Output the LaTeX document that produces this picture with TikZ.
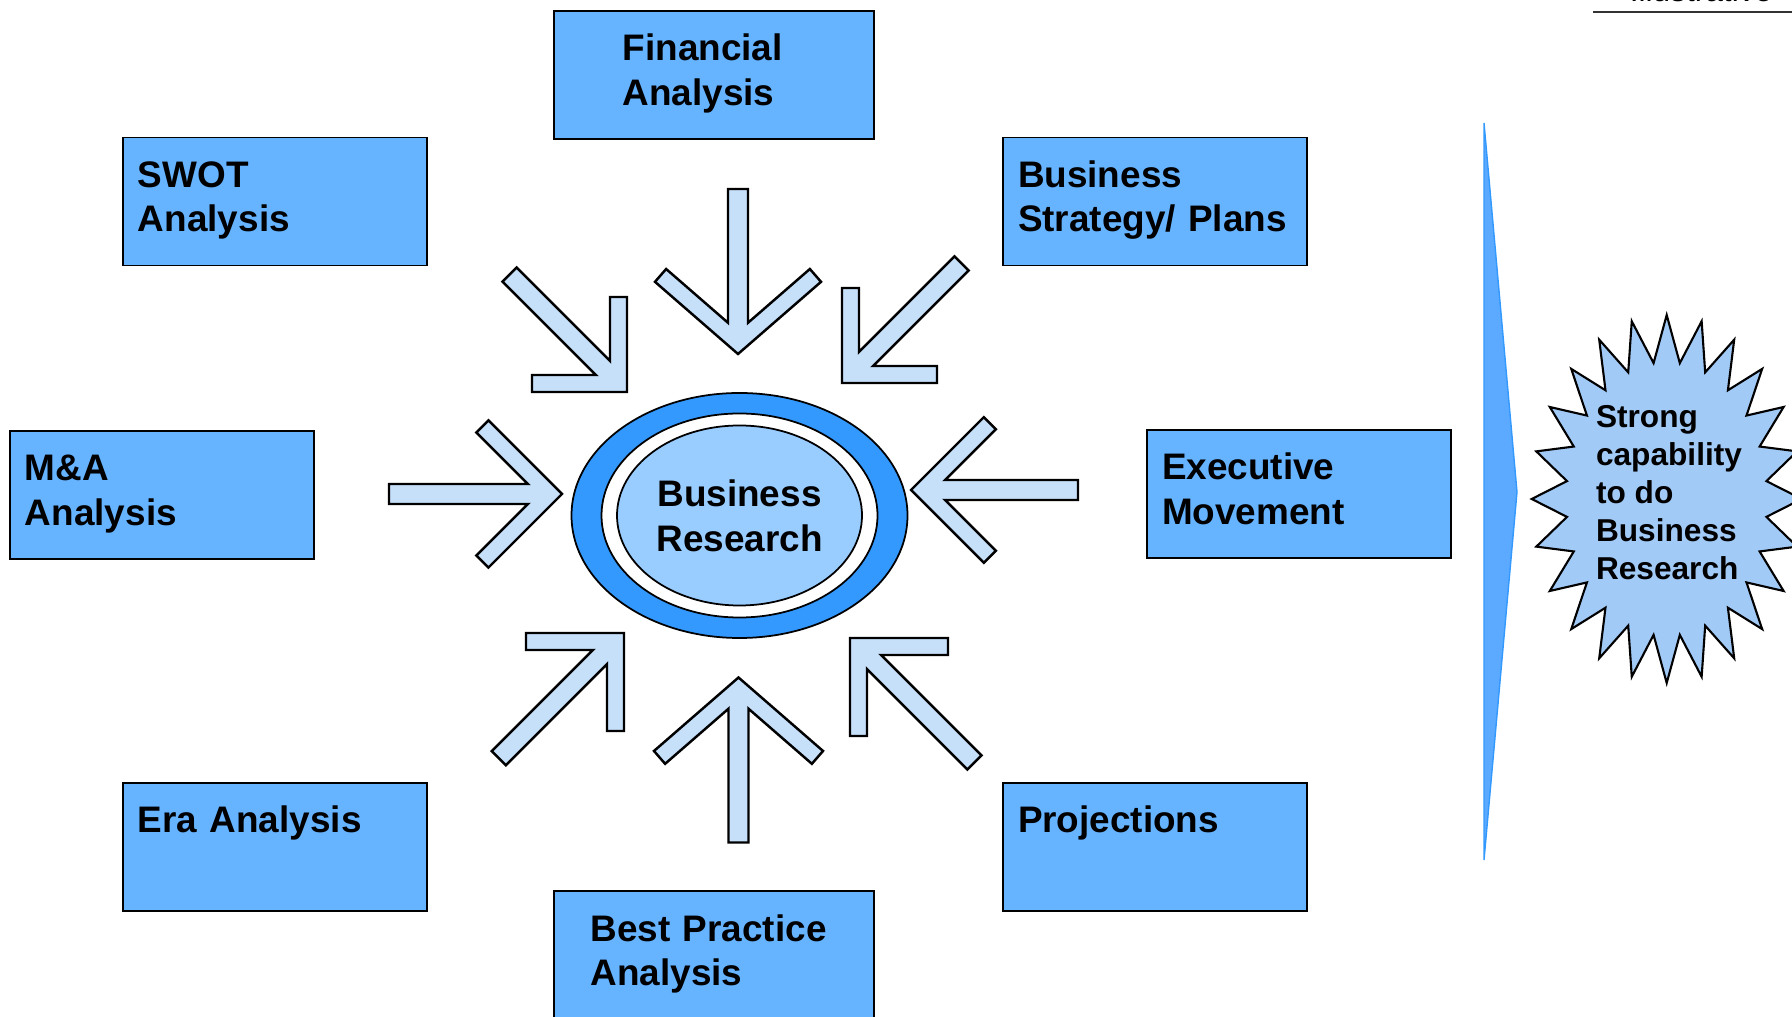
\documentclass[tikz,border=0pt]{standalone}
\usepackage{fontspec}
\setmainfont{Liberation Sans}
\usepackage{tikz}
\usetikzlibrary{shapes.geometric}

\definecolor{boxblue}{RGB}{102,179,255}
\definecolor{ringblue}{RGB}{51,153,255}
\definecolor{coreblue}{RGB}{153,204,255}
\definecolor{arrowblue}{RGB}{198,224,250}
\definecolor{burstblue}{RGB}{162,202,246}
\definecolor{chevblue}{RGB}{92,170,255}

% block arrow pointing at the centre: length, arm angle, arm length
\tikzset{pics/inarrow/.style n args={3}{code={
  \pgfmathsetmacro\ax{-#3*cos(#2)}
  \pgfmathsetmacro\ay{#3*sin(#2)}
  \pgfmathsetmacro\bx{\ax-0.17*sin(#2)}
  \pgfmathsetmacro\by{\ay-0.17*cos(#2)}
  \pgfmathsetmacro\jx{-(0.17+0.1*cos(#2))/sin(#2)}
  \draw[blockarrow] (0,0) -- (\ax,\ay) -- (\bx,\by) -- (\jx,0.1) -- (-#1,0.1)
    -- (-#1,-0.1) -- (\jx,-0.1) -- (\bx,-\by) -- (\ax,-\ay) -- cycle;
}}}

\begin{document}
\begin{tikzpicture}[box/.style={draw,line width=0.5pt,fill=boxblue,inner xsep=0.15cm,inner ysep=0pt,text width=2.74cm,align=left,text height=0.50cm,text depth=0.78cm,font=\fontsize{10.5}{12.6}\selectfont\bfseries},
  wide/.style={box,inner xsep=0.367cm,text width=2.466cm},
  blockarrow/.style={draw,fill=arrowblue,line width=0.7pt,line join=miter},
  ring/.style={ellipse,draw,line width=0.5pt,inner sep=0pt}]
  \useasboundingbox (0,0) rectangle (17.92,-10.17);

  \node[font=\fontsize{9}{10}\selectfont,anchor=base] (tag) at (17.01,-0.02) {Illustrative};
  \draw[line width=0.6pt,black!80] ([xshift=-0.24cm,yshift=-0.1cm]tag.base west) -- ++(2.2,0);

  \node[wide,inner xsep=0.687cm,text width=1.826cm] (fin) at (7.14,-0.75) {Financial\\Analysis};
  \node[box] (swot) at (2.75,-2.015) {SWOT\\Analysis};
  \node[box] (strat) at (11.55,-2.015) {Business\\Strategy/ Plans};
  \node[box] (ma) at (1.62,-4.95) {M\&A\\Analysis};
  \node[box] (exec) at (12.99,-4.94) {Executive\\Movement};
  \node[box] (era) at (2.75,-8.47) {Era Analysis};
  \node[box] (proj) at (11.55,-8.47) {Projections};
  \node[wide] (best) at (7.14,-9.55) {Best Practice\\Analysis};

  \node[ring,fill=ringblue,minimum width=3.36cm,minimum height=2.45cm] (outer) at (7.395,-5.155) {};
  \node[ring,fill=white,minimum width=2.76cm,minimum height=2.04cm] (gap) at (outer.center) {};
  \node[ring,fill=coreblue,minimum width=2.45cm,minimum height=1.80cm,align=center,font=\fontsize{10.5}{12.8}\selectfont\bfseries] (core) at (outer.center) {Business\\Research};

  \pic[rotate=-90] at (7.38,-3.54) {inarrow={1.65}{49}{1.10}};
  \pic[rotate=90] at (7.385,-6.775) {inarrow={1.65}{49}{1.12}};
  \pic at (5.62,-4.94) {inarrow={1.73}{45}{1.04}};
  \pic[rotate=180] at (9.11,-4.90) {inarrow={1.67}{45}{1.03}};
  \pic[rotate=-45] at (6.27,-3.92) {inarrow={1.66}{45}{0.95}};
  \pic[rotate=-135] at (8.42,-3.83) {inarrow={1.69}{45}{0.95}};
  \pic[rotate=45] at (6.24,-6.33) {inarrow={1.77}{45}{0.98}};
  \pic[rotate=135] at (8.50,-6.38) {inarrow={1.76}{45}{0.98}};

  \draw[fill=chevblue,draw=ringblue,line width=0.4pt] (14.84,-1.23) -- (15.17,-4.92) -- (14.84,-8.60) -- cycle;

  \coordinate (burst) at (16.667,-4.99);
  \begin{scope}[shift={(burst)}]
    \draw[fill=burstblue,line width=0.6pt,line join=miter] (0:1.35 and 1.84)
      \foreach \k [evaluate=\k as \rad using {mod(\k,2)==0 ? 1 : 0.745}] in {1,...,47}{ -- (\k*7.5:\rad*1.35 and \rad*1.84)} -- cycle;
  \end{scope}
  \node[align=left,inner sep=0pt,font=\fontsize{9}{10.8}\selectfont\bfseries] (goal) at (16.69,-4.925) {Strong\\capability\\to do\\Business\\Research};
\end{tikzpicture}
\end{document}
